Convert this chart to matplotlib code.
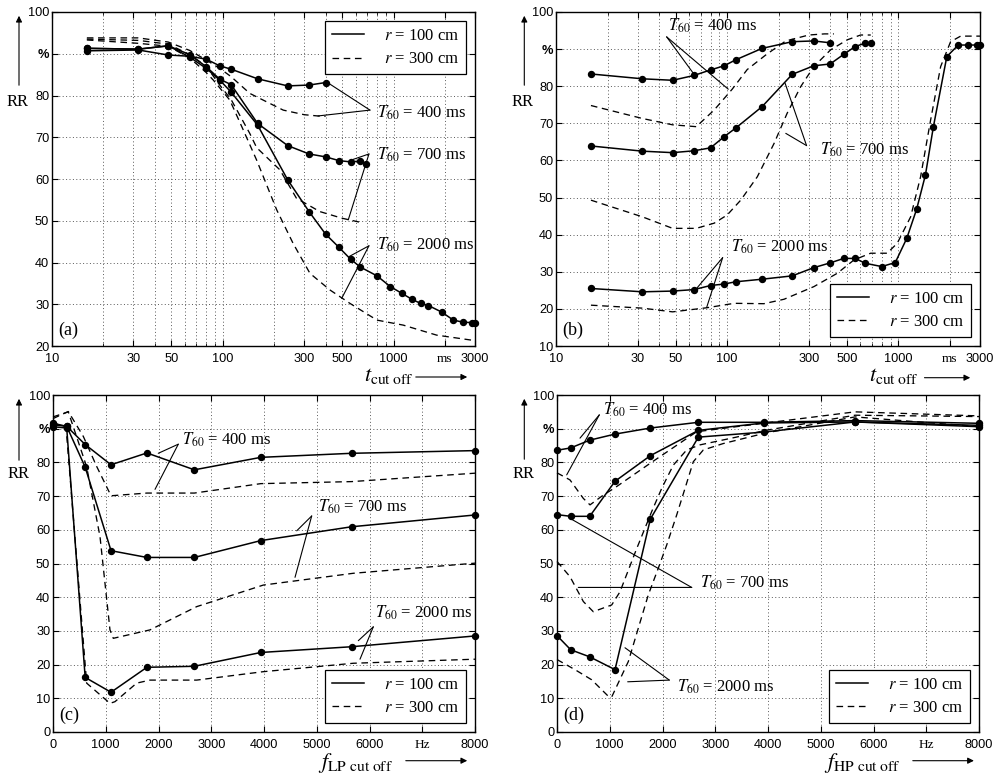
import matplotlib
matplotlib.use('Agg')
import matplotlib.pyplot as plt
from matplotlib.lines import Line2D
from matplotlib.ticker import FixedLocator, NullFormatter

plt.rcParams['font.family'] = ['Liberation Sans', 'DejaVu Sans']
plt.rcParams['mathtext.fontset'] = 'stix'

# ---------------- data ----------------
# (a) RR vs t_cut off (ms)
a_t_400 = [16, 32, 48, 64, 80, 96, 112, 160, 240, 320, 400]
a_s_400 = [90.7, 90.9, 89.7, 89.4, 88.7, 87.1, 86.3, 84.0, 82.3, 82.5, 83.1]
a_t_700 = [16, 32, 48, 64, 80, 96, 112, 160, 240, 320, 400, 480, 560, 640, 690]
a_s_700 = [91.3, 91.1, 91.9, 89.8, 86.9, 83.9, 82.6, 73.3, 68.0, 66.0, 65.3, 64.4, 64.1, 64.3, 63.7]
a_t_2000 = [16, 32, 48, 64, 80, 96, 112, 160, 240, 320, 400, 480, 560, 640, 800, 960,
            1120, 1280, 1440, 1600, 1920, 2240, 2560, 2880, 3000]
a_s_2000 = [91.3, 91.1, 91.9, 89.2, 86.5, 83.7, 80.8, 72.9, 59.8, 52.2, 46.8, 43.6, 40.8, 38.9,
            36.8, 34.2, 32.6, 31.2, 30.2, 29.7, 28.1, 26.2, 25.7, 25.6, 25.6]
a_dt_400 = [16, 32, 48, 64, 80, 96, 112, 144, 226, 300, 360, 400]
a_d_400 = [93.8, 93.8, 92.8, 90.8, 88.5, 86.5, 84.5, 80.5, 76.5, 75.4, 75.1, 75.0]
a_dt_700 = [16, 32, 48, 64, 80, 96, 112, 144, 158, 216, 270, 370, 500, 660]
a_d_700 = [93.5, 93.2, 92.3, 89.8, 87.0, 82.5, 79.0, 70.9, 67.5, 62.2, 55.4, 52.2, 50.6, 49.5]
a_dt_2000 = [16, 32, 48, 64, 80, 88, 110, 132, 158, 207, 258, 324, 425, 556, 800, 1140, 1790, 2870, 3000]
a_d_2000 = [93.3, 92.5, 91.8, 89.0, 85.5, 83.7, 78.9, 71.7, 64.5, 52.6, 44.6, 37.4, 33.4, 30.2,
            26.2, 25.0, 22.6, 21.4, 21.2]

# (b) RR vs t_cut off (ms)
b_t_400 = [16, 32, 48, 64, 80, 96, 112, 160, 240, 320, 400]
b_s_400 = [83.3, 82.0, 81.6, 82.9, 84.4, 85.5, 87.1, 90.2, 92.0, 92.2, 91.7]
b_t_700 = [16, 32, 48, 64, 80, 96, 112, 160, 240, 320, 400, 480, 560, 640, 690]
b_s_700 = [63.9, 62.5, 62.1, 62.6, 63.4, 66.4, 68.7, 74.5, 83.2, 85.5, 86.0, 88.6, 90.7, 91.6, 91.6]
b_t_2000 = [16, 32, 48, 64, 80, 96, 112, 160, 240, 320, 400, 480, 560, 640, 800, 960,
            1120, 1280, 1440, 1600, 1920, 2240, 2560, 2880, 3000]
b_s_2000 = [25.5, 24.6, 24.8, 25.2, 26.3, 26.7, 27.3, 28.0, 28.9, 31.1, 32.4, 33.6, 33.6, 32.3,
            31.4, 32.5, 39.0, 46.9, 56.1, 68.9, 88.0, 91.1, 91.1, 91.1, 91.1]
b_dt_400 = [16, 32, 48, 66, 84, 107, 131, 170, 220, 300, 370, 420]
b_d_400 = [74.8, 71.3, 69.6, 69.1, 73.6, 79.2, 84.5, 88.6, 92.2, 93.8, 94.1, 94.1]
b_dt_700 = [16, 32, 48, 66, 84, 100, 120, 150, 188, 224, 269, 321, 402, 503, 602, 690]
b_d_700 = [49.3, 44.8, 41.7, 41.7, 43.1, 45.3, 49.3, 55.6, 64.6, 72.7, 79.9, 85.3, 89.8, 92.5, 93.8, 93.8]
b_dt_2000 = [16, 32, 48, 76, 110, 164, 215, 321, 440, 551, 689, 861, 986, 1180, 1349, 1544,
             1767, 2020, 2312, 3000]
b_d_2000 = [21.0, 20.2, 19.2, 20.3, 21.5, 21.4, 22.6, 26.0, 29.6, 33.2, 35.0, 35.0, 37.7, 44.8,
            55.6, 70.9, 85.3, 92.0, 93.5, 93.5]

# (c) RR vs f_LP cut off (Hz)
c_f = [0, 260, 610, 1100, 1780, 2680, 3940, 5660, 8000]
c_s_400 = [91.2, 90.7, 85.3, 79.3, 82.8, 77.8, 81.5, 82.7, 83.5]
c_s_700 = [91.6, 90.7, 78.6, 53.8, 51.8, 51.8, 56.8, 60.9, 64.4]
c_s_2000 = [90.6, 90.2, 16.2, 11.8, 19.2, 19.5, 23.6, 25.3, 28.5]
c_df_400 = [0, 290, 575, 828, 1100, 1780, 2680, 3940, 5660, 8000]
c_d_400 = [93.0, 95.1, 87.7, 78.8, 70.1, 70.9, 70.9, 73.7, 74.3, 76.8]
c_df_700 = [0, 290, 638, 891, 1080, 1143, 1839, 2724, 3987, 5694, 8000]
c_d_700 = [93.5, 95.0, 78.7, 58.0, 30.3, 27.8, 30.3, 37.2, 43.6, 47.1, 50.1]
c_df_2000 = [0, 250, 638, 1080, 1175, 1586, 1839, 2724, 3987, 5694, 8000]
c_d_2000 = [92.0, 90.0, 14.5, 8.5, 9.0, 14.5, 15.4, 15.4, 17.9, 20.4, 21.6]

# (d) RR vs f_HP cut off (Hz)
d_f = [0, 260, 620, 1100, 1770, 2680, 3920, 5650, 8000]
d_s_400 = [83.6, 84.3, 86.6, 88.4, 90.2, 91.9, 91.9, 92.4, 91.6]
d_s_700 = [64.5, 64.0, 64.0, 74.4, 82.0, 89.5, 91.7, 92.0, 91.0]
d_s_2000 = [28.6, 24.4, 22.3, 18.5, 63.2, 87.5, 89.0, 92.0, 90.6]
d_df_400 = [0, 246, 500, 626, 878, 1100, 1763, 2648, 3400, 5650, 8000]
d_d_400 = [76.9, 74.8, 69.3, 67.4, 70.3, 72.5, 79.7, 89.1, 90.6, 95.0, 93.8]
d_df_700 = [0, 246, 500, 688, 1037, 1194, 1500, 1795, 1985, 2205, 2459, 2711, 3400, 3950, 5650, 8000]
d_d_700 = [50.6, 46.1, 38.7, 35.7, 37.7, 41.6, 54.0, 65.4, 72.3, 79.2, 83.7, 85.2, 87.5, 89.5, 94.0, 93.6]
d_df_2000 = [0, 341, 657, 973, 1037, 1352, 1541, 1731, 1920, 2080, 2269, 2427, 2584, 2774, 3153,
             3974, 5650, 8000]
d_d_2000 = [21.5, 18.5, 15.5, 10.6, 10.4, 20.9, 30.8, 40.7, 48.6, 55.5, 64.4, 72.3, 80.2, 83.7,
            85.6, 88.8, 93.5, 90.6]

legend_labels = [r'$r$ = 100 cm', r'$r$ = 300 cm']
t60_labels = [r'$T_{60}$ = 400 ms', r'$T_{60}$ = 700 ms', r'$T_{60}$ = 2000 ms']

log_ticks = [10, 30, 50, 100, 300, 500, 1000, 2000, 3000]
log_ticklabels = ['10', '30', '50', '100', '300', '500', '1000', 'ms', '3000']
log_minor = [20, 40, 60, 70, 80, 90, 200, 400, 600, 700, 800, 900]
lin_ticks = [0, 1000, 2000, 3000, 4000, 5000, 6000, 7000, 8000]
lin_ticklabels = ['0', '1000', '2000', '3000', '4000', '5000', '6000', 'Hz', '8000']

# ---------------- figure ----------------
W, H = 999, 778
fig = plt.figure(figsize=(W / 100, H / 100), dpi=100)


def fx(x):
    return x / W


def fy(y):
    return 1 - y / H


def ax_at(l, t, r, b):
    return fig.add_axes([fx(l), fy(b), (r - l) / W, (b - t) / H])


axA = ax_at(52, 12, 475, 346)
axB = ax_at(556, 12, 980, 346)
axC = ax_at(53, 395, 475, 732)
axD = ax_at(557, 395, 979, 732)

SERIF = 'Liberation Serif'
DASH = (0, (5, 3.5))
GRID = dict(ls=(0, (1, 2.5)), color='0.35', lw=0.7)


def solid(ax, x, y):
    ax.plot(x, y, color='k', lw=1.1, marker='o', ms=4.3, clip_on=False, zorder=4)


def dashed(ax, x, y):
    ax.plot(x, y, color='k', lw=0.95, ls=DASH, clip_on=False, zorder=3)


def style_y(ax, lo):
    ticks = list(range(lo, 101, 10))
    labels = ['%' if t == 90 else str(t) for t in ticks]
    ax.set_ylim(lo, 100)
    ax.set_yticks(ticks, labels)
    for t, lab in zip(ticks, ax.get_yticklabels()):
        if t == 90:
            lab.set_fontweight('bold')
    ax.grid(True, axis='y', which='major', **GRID)


def style_common(ax):
    ax.tick_params(axis='both', which='both', direction='in', top=True, right=True,
                   labelsize=9.2)
    ax.tick_params(axis='both', which='major', length=4, width=0.8)
    ax.tick_params(axis='both', which='minor', length=2, width=0.6)
    ax.tick_params(axis='x', pad=5)
    ax.tick_params(axis='y', pad=2)
    for s in ax.spines.values():
        s.set_linewidth(1.0)
    ax.set_axisbelow(True)


def style_log(ax):
    ax.set_xscale('log')
    ax.set_xlim(10, 3000)
    ax.set_xticks(log_ticks, log_ticklabels)
    ax.xaxis.set_minor_locator(FixedLocator(log_minor))
    ax.xaxis.set_minor_formatter(NullFormatter())
    for lab in ax.get_xticklabels():
        if lab.get_text() == 'ms':
            lab.set_fontfamily(SERIF)
            lab.set_fontsize(9.5)
    ax.grid(True, axis='x', which='both', **GRID)


def style_lin(ax):
    ax.set_xlim(0, 8000)
    ax.set_xticks(lin_ticks, lin_ticklabels)
    for lab in ax.get_xticklabels():
        if lab.get_text() == 'Hz':
            lab.set_fontfamily(SERIF)
            lab.set_fontsize(9.5)
    ax.grid(True, axis='x', which='major', **GRID)


def legend(ax, loc):
    h = [Line2D([], [], color='k', lw=1.1), Line2D([], [], color='k', lw=0.95, ls=DASH)]
    leg = ax.legend(h, legend_labels, loc=loc, prop={'family': SERIF, 'size': 12},
                    frameon=True, fancybox=False, edgecolor='k', framealpha=1,
                    handlelength=1.9, handletextpad=1.2, borderaxespad=0.55,
                    borderpad=0.4, labelspacing=0.45)
    leg.get_frame().set_linewidth(0.9)
    leg.set_zorder(6)


def t60(ax, text, txy, anchor, targets):
    ax.text(txy[0], txy[1], text, ha='left', va='center', family=SERIF, fontsize=12, zorder=6)
    for tg in targets:
        ax.annotate('', xy=tg, xytext=anchor,
                    arrowprops=dict(arrowstyle='-', lw=0.8, color='k', shrinkA=0, shrinkB=0))


def panel_label(ax, s):
    ax.text(0.014, 0.048, s, transform=ax.transAxes, ha='left', va='center',
            family=SERIF, fontsize=13)


def arrow(x0, y0, x1, y1):
    fig.add_artist(matplotlib.patches.FancyArrowPatch(
        (fx(x0), fy(y0)), (fx(x1), fy(y1)), transform=fig.transFigure,
        arrowstyle='-|>', mutation_scale=9, lw=0.8, color='k'))


# ---- (a)
style_common(axA)
style_log(axA)
style_y(axA, 20)
solid(axA, a_t_400, a_s_400)
solid(axA, a_t_700, a_s_700)
solid(axA, a_t_2000, a_s_2000)
dashed(axA, a_dt_400, a_d_400)
dashed(axA, a_dt_700, a_d_700)
dashed(axA, a_dt_2000, a_d_2000)
legend(axA, 'upper right')
panel_label(axA, '(a)')
t60(axA, t60_labels[0], (800, 75.8), (728, 76.5), [(407, 83.2), (361, 75.1)])
t60(axA, t60_labels[1], (800, 65.7), (718, 66.0), [(581, 64.7), (543, 50.2)])
t60(axA, t60_labels[2], (800, 44.2), (718, 44.0), [(548, 41.4), (497, 31.4)])

# ---- (b)
style_common(axB)
style_log(axB)
style_y(axB, 10)
solid(axB, b_t_400, b_s_400)
solid(axB, b_t_700, b_s_700)
solid(axB, b_t_2000, b_s_2000)
dashed(axB, b_dt_400, b_d_400)
dashed(axB, b_dt_700, b_d_700)
dashed(axB, b_dt_2000, b_d_2000)
legend(axB, 'lower right')
panel_label(axB, '(b)')
t60(axB, t60_labels[0], (45.1, 96.2), (44.3, 93.3), [(63.4, 83.5), (101.5, 79.2)])
t60(axB, t60_labels[1], (348, 62.8), (291, 64.0), [(218, 80.8), (220, 67.3)])
t60(axB, t60_labels[2], (106, 36.8), (94.1, 33.8), [(65.7, 25.3), (75.9, 20.4)])

# ---- (c)
style_common(axC)
style_lin(axC)
style_y(axC, 0)
solid(axC, c_f, c_s_400)
solid(axC, c_f, c_s_700)
solid(axC, c_f, c_s_2000)
dashed(axC, c_df_400, c_d_400)
dashed(axC, c_df_700, c_d_700)
dashed(axC, c_df_2000, c_d_2000)
legend(axC, 'lower right')
panel_label(axC, '(c)')
t60(axC, t60_labels[0], (2440, 86.6), (2375, 85.4), [(1996, 82.7), (1934, 72.0)])
t60(axC, t60_labels[1], (5029, 66.9), (4904, 64.1), [(4620, 59.7), (4588, 45.9)])
t60(axC, t60_labels[2], (6104, 35.4), (6072, 31.2), [(5788, 27.1), (5820, 21.6)])

# ---- (d)
style_common(axD)
style_lin(axD)
style_y(axD, 0)
solid(axD, d_f, d_s_400)
solid(axD, d_f, d_s_700)
solid(axD, d_f, d_s_2000)
dashed(axD, d_df_400, d_d_400)
dashed(axD, d_df_700, d_d_700)
dashed(axD, d_df_2000, d_d_2000)
legend(axD, 'lower right')
panel_label(axD, '(d)')
t60(axD, t60_labels[0], (872, 95.5), (802, 94.1), [(436, 87.2), (184, 76.3)])
t60(axD, t60_labels[1], (2711, 44.2), (2554, 42.9), [(246, 63.4), (404, 42.9)])
t60(axD, t60_labels[2], (2269, 13.4), (2129, 15.4), [(1289, 25.0), (1340, 14.9)])

# ---- axis names with arrows
for (tx, ty, ax0, ay0, ay1) in [(17.5, 101.7, 19, 88, 13), (523, 101.7, 524.3, 88, 13),
                                (18.3, 473.5, 19, 463, 396), (524, 473.5, 524.3, 462, 396)]:
    fig.text(fx(tx), fy(ty), 'RR', ha='center', va='center', family=SERIF, fontsize=12)
    arrow(ax0, ay0, ax0, ay1)

for (s, cx, cy, x0, x1, ya) in [
        (r'$t_{\mathrm{cut\ off}}$', 388.5, 376, 413, 470, 377),
        (r'$t_{\mathrm{cut\ off}}$', 894, 376, 921.7, 973, 377.7),
        (r'$f_{\mathrm{LP\ cut\ off}}$', 356, 763, 403, 470, 760.7),
        (r'$f_{\mathrm{HP\ cut\ off}}$', 862.5, 763, 910, 976.7, 760.7)]:
    fig.text(fx(cx), fy(cy), s, ha='center', va='center', family=SERIF, fontsize=16)
    arrow(x0, ya, x1, ya)

fig.savefig('out.png', dpi=100, facecolor='white')
